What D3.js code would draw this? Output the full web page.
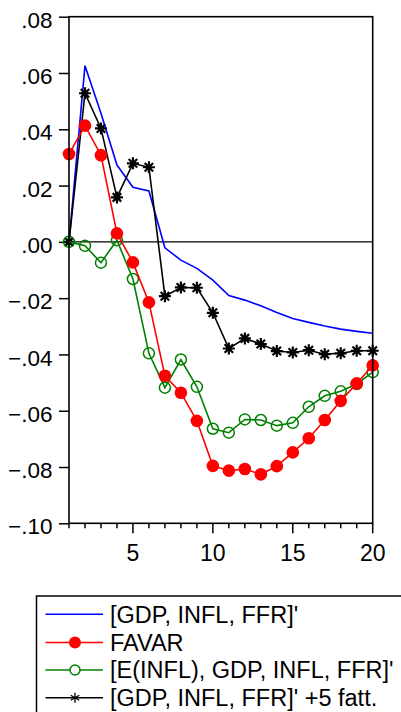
<!DOCTYPE html>
<html>
<head>
<meta charset="utf-8">
<script src="https://cdn.jsdelivr.net/npm/d3@7"></script>
<style>
    body { margin: 0; background: #fff; }
    svg text { font-family: "Liberation Sans", Arial, sans-serif; fill: #000; }
</style>
</head>
<body>
<div id="chart"></div>
<script>
// horizons 1..20
let horizons = d3.range(1, 21)

let seriesNames = ["[GDP, INFL, FFR]'", 'FAVAR', "[E(INFL), GDP, INFL, FFR]'", "[GDP, INFL, FFR]' +5 fatt."]

let varBase = [0.0, 0.0626, 0.0457, 0.0273, 0.0194, 0.0181, -0.0021, -0.0065, -0.0094, -0.0136,
    -0.0191, -0.0207, -0.0227, -0.0251, -0.0272, -0.0286, -0.0299, -0.031, -0.0318, -0.0325]
let favar = [0.0312, 0.0413, 0.0308, 0.003, -0.0073, -0.0215, -0.0476, -0.0536, -0.0636, -0.0796,
    -0.0813, -0.0807, -0.0826, -0.0797, -0.0748, -0.0698, -0.0633, -0.0565, -0.0503, -0.0439]
let varExp = [0.0, -0.0014, -0.0074, 0.0006, -0.0132, -0.0396, -0.0518, -0.0418, -0.0515, -0.0664,
    -0.0678, -0.0631, -0.0633, -0.0653, -0.0643, -0.0586, -0.0547, -0.0531, -0.0505, -0.0463]
let varFact = [0.0, 0.0528, 0.0403, 0.0158, 0.0279, 0.0265, -0.0193, -0.0162, -0.0163, -0.0252,
    -0.0379, -0.0343, -0.0363, -0.0388, -0.0393, -0.0385, -0.0399, -0.0396, -0.0387, -0.0387]

let yTicks = [-0.10, -0.08, -0.06, -0.04, -0.02, 0.00, 0.02, 0.04, 0.06, 0.08]
let xLabelTicks = [5, 10, 15, 20]

let svgWidth = 401
let svgHeight = 712

let plot = { left: 69, top: 16.7, right: 372.7, bottom: 523.3 }

let svg = d3.select('#chart')
    .append('svg')
    .attr('width', svgWidth)
    .attr('height', svgHeight)

let x = d3.scaleLinear().domain([1, 20]).range([plot.left, plot.right])
let y = d3.scaleLinear().domain([-0.10, 0.08]).range([plot.bottom, plot.top])

const fmt = v => d3.format('.2f')(v).replace('0.', '.')

// y axis, ticks outward
let yAxis = svg.append('g')
    .attr('transform', `translate(${plot.left},0)`)
    .call(d3.axisLeft(y).tickValues(yTicks).tickSize(10).tickSizeOuter(0).tickFormat(fmt))
yAxis.select('.domain').remove()
yAxis.selectAll('line').attr('stroke', '#000').attr('stroke-width', 1.5)
yAxis.selectAll('text')
    .attr('x', -16.5)
    .attr('dy', '0.47em')
    .style('font-size', '22.5px')
    .attr('font-family', null)

// x axis: minor ticks every step, longer ones on labelled values
let xAxis = svg.append('g')
    .attr('transform', `translate(0,${plot.bottom})`)
xAxis.selectAll('line')
    .data(horizons)
    .enter()
    .append('line')
    .attr('x1', d => x(d))
    .attr('x2', d => x(d))
    .attr('y1', 0)
    .attr('y2', d => xLabelTicks.includes(d) ? 10 : 5)
    .attr('stroke', '#000')
    .attr('stroke-width', 1.5)
xAxis.selectAll('text')
    .data(xLabelTicks)
    .enter()
    .append('text')
    .attr('x', d => x(d))
    .attr('y', 38)
    .attr('text-anchor', 'middle')
    .style('font-size', '23px')
    .text(d => d)

// zero line
svg.append('line')
    .attr('x1', plot.left)
    .attr('x2', plot.right)
    .attr('y1', y(0))
    .attr('y2', y(0))
    .attr('stroke', '#000')
    .attr('stroke-width', 1.2)

let line = d3.line()
    .x((d, i) => x(horizons[i]))
    .y(d => y(d))

const starPath = r => {
    let d = r * Math.SQRT1_2
    return `M${-r},0L${r},0M0,${-r}L0,${r}M${-d},${-d}L${d},${d}M${-d},${d}L${d},${-d}`
}

// blue line, no markers
svg.append('path')
    .datum(varBase)
    .attr('d', line)
    .attr('fill', 'none')
    .attr('stroke', '#0000ff')
    .attr('stroke-width', 1.6)

// black with stars
svg.append('path')
    .datum(varFact)
    .attr('d', line)
    .attr('fill', 'none')
    .attr('stroke', '#000')
    .attr('stroke-width', 1.6)
svg.append('g').selectAll('path')
    .data(varFact)
    .enter()
    .append('path')
    .attr('transform', (d, i) => `translate(${x(horizons[i])},${y(d)})`)
    .attr('d', starPath(6))
    .attr('stroke', '#000')
    .attr('stroke-width', 2.2)

// green with open circles
svg.append('path')
    .datum(varExp)
    .attr('d', line)
    .attr('fill', 'none')
    .attr('stroke', '#008000')
    .attr('stroke-width', 1.6)
svg.append('g').selectAll('circle')
    .data(varExp)
    .enter()
    .append('circle')
    .attr('cx', (d, i) => x(horizons[i]))
    .attr('cy', d => y(d))
    .attr('r', 5.5)
    .attr('fill', 'none')
    .attr('stroke', '#008000')
    .attr('stroke-width', 1.5)

// red with filled dots
svg.append('path')
    .datum(favar)
    .attr('d', line)
    .attr('fill', 'none')
    .attr('stroke', '#ff0000')
    .attr('stroke-width', 1.6)
svg.append('g').selectAll('circle')
    .data(favar)
    .enter()
    .append('circle')
    .attr('cx', (d, i) => x(horizons[i]))
    .attr('cy', d => y(d))
    .attr('r', 6.3)
    .attr('fill', '#ff0000')

// plot frame
svg.append('rect')
    .attr('x', plot.left)
    .attr('y', plot.top)
    .attr('width', plot.right - plot.left)
    .attr('height', plot.bottom - plot.top)
    .attr('fill', 'none')
    .attr('stroke', '#000')
    .attr('stroke-width', 1.6)

// legend, box runs off the page on right and bottom
let legend = svg.append('g')
legend.append('rect')
    .attr('x', 36.5)
    .attr('y', 596)
    .attr('width', 420)
    .attr('height', 160)
    .attr('fill', 'none')
    .attr('stroke', '#000')
    .attr('stroke-width', 1.5)

let legendColors = ['#0000ff', '#ff0000', '#008000', '#000']
let legendRows = [614.3, 642.5, 670, 697.8]

seriesNames.forEach((name, i) => {
    let ly = legendRows[i]
    legend.append('line')
        .attr('x1', 45.5)
        .attr('x2', 103)
        .attr('y1', ly)
        .attr('y2', ly)
        .attr('stroke', legendColors[i])
        .attr('stroke-width', 1.6)
    if (i === 1) {
        legend.append('circle').attr('cx', 75).attr('cy', ly).attr('r', 6).attr('fill', '#ff0000')
    } else if (i === 2) {
        legend.append('circle').attr('cx', 75).attr('cy', ly).attr('r', 5)
            .attr('fill', '#fff').attr('stroke', '#008000').attr('stroke-width', 1.5)
    } else if (i === 3) {
        legend.append('path').attr('transform', `translate(75,${ly})`)
            .attr('d', 'M0,-5L0,5M-4.3,-2.5L4.3,2.5M-4.3,2.5L4.3,-2.5')
            .attr('stroke', '#000').attr('stroke-width', 1.3)
    }
    legend.append('text')
        .attr('x', 110)
        .attr('y', ly)
        .attr('dy', '0.36em')
        .style('font-size', '23.5px')
        .text(name)
})
</script>
</body>
</html>
